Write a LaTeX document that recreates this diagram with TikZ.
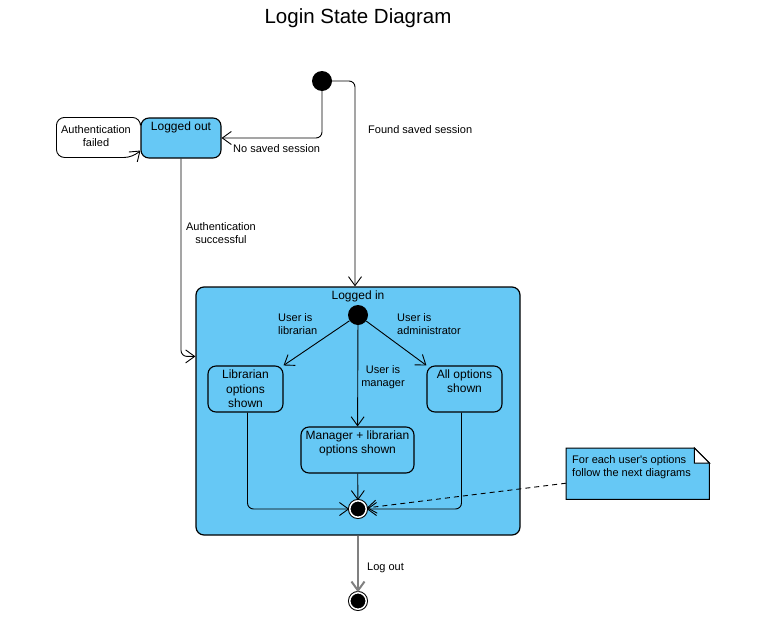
\documentclass[tikz,border=0pt]{standalone}
\usepackage{fontspec}
\setmainfont{Liberation Sans}
\usetikzlibrary{arrows.meta}
\definecolor{stateblue}{HTML}{66C8F5}

\newcommand{\labelfont}{\fontsize{11}{13}\selectfont}
\newcommand{\statefont}{\fontsize{12}{14.5}\selectfont}

\tikzset{
  state/.style={draw, line width=1.1pt, fill=stateblue, rounded corners=8pt, inner sep=0pt},
  toptext/.style={anchor=north, inner sep=4pt, align=center, font=\statefont},
  lbl/.style={inner sep=1pt, font=\labelfont},
  initial/.style={circle, fill=black, minimum size=20pt, inner sep=0pt},
  final/.style={circle, fill=black, draw=black, line width=1pt, double=white, double distance=1.5pt, minimum size=16.5pt, inner sep=0pt},
  arr/.style={-{Straight Barb[length=9pt,width=13pt]}, line width=0.9pt},
}

\begin{document}
\begin{tikzpicture}[x=1pt, y=-1pt]
    \useasboundingbox (0,0) rectangle (760,624);

    % Title
    \node (title) at (358,18) {\fontsize{20.5}{24}\selectfont Login State Diagram};

    % Outer states
    \node[initial] (init) at (322,81) {};
    \node[state, minimum width=80pt, minimum height=40pt] (out) at (181,138) {};
    \node[toptext] (outtext) at (out.north) {Logged out};
    \node[state, line width=1.2pt, minimum width=324pt, minimum height=248pt] (in) at (358,411) {};
    \node[toptext] (intext) at (in.north) {Logged in};
    \node[final] (fin) at (358,601) {};

    % Inner states
    \node[initial] (istart) at (358,315) {};
    \node[state, minimum width=75pt, minimum height=46pt, align=center, font=\statefont] (lib) at (245.5,389) {Librarian\\options\\shown};
    \node[state, minimum width=75pt, minimum height=46pt] (all) at (464.5,389) {};
    \node[toptext] (alltext) at (all.north) {All options\\shown};
    \node[state, minimum width=113pt, minimum height=46pt] (mgr) at (357.5,450) {};
    \node[toptext] (mgrtext) at (mgr.north) {Manager + librarian\\options shown};
    \node[final] (iend) at (358,509) {};

    % Note
    \node[anchor=north west, minimum width=143pt, minimum height=51pt, inner sep=0pt] (note) at (566,448) {};
    \filldraw[fill=stateblue, line width=1pt] (note.north west) -- ([xshift=-15pt]note.north east)
        -- ([yshift=-15pt]note.north east) -- (note.south east) -- (note.south west) -- cycle;
    \filldraw[fill=white, line width=1pt] ([xshift=-15pt]note.north east) -- ([shift={(-15pt,-15pt)}]note.north east)
        -- ([yshift=-15pt]note.north east) -- cycle;
    \node[lbl, anchor=north west, align=left] (notetext) at (571,454) {For each user\textquotesingle s options\\follow the next diagrams};

    % Outer transitions
    \draw[arr, rounded corners=8pt] ([yshift=-6pt]out.north west) -- ++(0,-6) -- ++(-84,0) -- ++(0,40) -- ++(76,0) -- ([yshift=8pt]out.south west);
    \node[lbl, align=center] (failed) at (96,136) {Authentication\\failed};

    \draw[arr, rounded corners=6pt] (init) |- (out.east);
    \node[lbl, anchor=west] (nosaved) at (232,149) {No saved session};

    \draw[arr, rounded corners=6pt] (init) -| ([xshift=-3pt]in.north);
    \node[lbl, anchor=west] (found) at (367,130) {Found saved session};

    \draw[arr, rounded corners=6pt] (out) |- ([yshift=-70pt]in.north west);
    \node[lbl, align=center] (success) at (221,233) {Authentication\\successful};

    \draw[arr, draw=gray, line width=2pt] (in.south) -- (fin);
    \node[lbl, anchor=west] (logout) at (366,568) {Log out};

    % Inner transitions
    \draw[arr] (istart) -- (lib.north east);
    \node[lbl, anchor=west, align=left] (islib) at (277,324) {User is\\librarian};
    \draw[arr] (istart) -- (all.north west);
    \node[lbl, anchor=west, align=left] (isadmin) at (396,324) {User is\\administrator};
    \draw[arr] (istart) -- (mgr);
    \node[lbl, align=center] (ismgr) at (383,377) {User is\\manager};

    \draw[arr, rounded corners=6pt] ([xshift=2pt]lib.south) |- (iend);
    \draw[arr, rounded corners=6pt] ([xshift=-3pt]all.south) |- (iend);
    \draw[arr] (mgr) -- (iend);
    \draw[arr, dashed, dash pattern=on 5pt off 4pt] ([yshift=-9.5pt]note.west) -- (iend);
\end{tikzpicture}
\end{document}
